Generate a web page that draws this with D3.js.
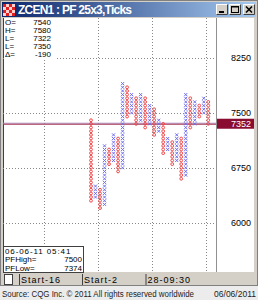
<!DOCTYPE html>
<html>
<head>
<meta charset="utf-8">
<script src="https://cdnjs.cloudflare.com/ajax/libs/d3/7.8.5/d3.min.js"></script>
<style>
  body { margin: 0; background: #d4d0c8; }
  svg { display: block; }
  text { font-family: "Liberation Sans", Arial, sans-serif; }
</style>
</head>
<body>
<div id="chart"></div>
<script>
// point & figure columns (prices in cents*10)
const columnType = ["O","X","O","X","O","X","O","X","O","X","O","X","O","X",
                    "O","X","O","X","O","X","O","X","O","X","O","X","O"];
const columnHigh = [7400, 6500, 6450, 7050, 7000, 7200, 7150, 7900, 7850, 7750,
                    7700, 7750, 7700, 7600, 7550, 7400, 7350, 7150, 7100, 7200,
                    7150, 7750, 7700, 7650, 7600, 7700, 7650];
const columnLow  = [6300, 6350, 6200, 6250, 6800, 6850, 6700, 6750, 7450, 7500,
                    7350, 7400, 7300, 7350, 7200, 7250, 6950, 7000, 6800, 6850,
                    6600, 6650, 7300, 7350, 7450, 7500, 7350];
const boxSize = 50;
const priceTicks = [8250, 7500, 6750, 6000];
const gridColumns = [-10.4, 1.6, 13.6, 25.6];
const lastPrice = 7352;
const infoLabels = ["O=", "H=", "L=", "L=", "Δ="];
const infoValues = ["7540", "7580", "7322", "7350", "-190"];
const statusLabels = ["Start-16", "Start-2", "28-09:30"];

const W = 258, H = 300;
const plot = {left: 3, right: 216, top: 18, bottom: 272};

const svg = d3.select("#chart").append("svg")
    .attr("width", W).attr("height", H);

// window frame
svg.append("rect").attr("x", 0).attr("y", 0).attr("width", W).attr("height", 286)
    .attr("fill", "#d4d0c8");
svg.append("rect").attr("x", 0.5).attr("y", 0.5).attr("width", W - 1).attr("height", 285)
    .attr("fill", "none").attr("stroke", "#808080");

// title bar
const grad = svg.append("defs").append("linearGradient").attr("id", "tb");
grad.append("stop").attr("offset", "0%").attr("stop-color", "#0a246a");
grad.append("stop").attr("offset", "100%").attr("stop-color", "#a6caf0");
svg.append("rect").attr("x", 2).attr("y", 2).attr("width", W - 4).attr("height", 15)
    .attr("fill", "url(#tb)");

// icon
const icon = svg.append("g").attr("transform", "translate(3,4)");
for (let r = 0; r < 4; r++) {
    for (let c = 0; c < 4; c++) {
        icon.append("rect").attr("x", c * 3).attr("y", r * 3).attr("width", 3).attr("height", 3)
            .attr("fill", (r + c) % 2 == 0 ? "#e02020" : "#ffd0d0");
    }
}
svg.append("text").attr("x", 18).attr("y", 14)
    .attr("fill", "white").attr("font-weight", "bold").attr("font-size", 12)
    .attr("font-family", "'DejaVu Sans', sans-serif").attr("textLength", 114)
    .text("ZCEN1 : PF 25x3,Ticks");

// title buttons
[216, 229, 243].forEach((bx, i) => {
    const b = svg.append("g").attr("transform", "translate(" + bx + ",4)");
    b.append("rect").attr("width", 12).attr("height", 11).attr("fill", "#d4d0c8");
    b.append("path").attr("d", "M0.5,10.5 V0.5 H11.5").attr("stroke", "white").attr("fill", "none");
    b.append("path").attr("d", "M0.5,10.5 H11.5 V0.5").attr("stroke", "#404040").attr("fill", "none");
    if (i == 0) b.append("rect").attr("x", 3).attr("y", 7).attr("width", 5).attr("height", 2).attr("fill", "black");
    if (i == 1) b.append("rect").attr("x", 2.5).attr("y", 2.5).attr("width", 7).attr("height", 6)
        .attr("fill", "none").attr("stroke", "black").attr("stroke-width", 1);
    if (i == 1) b.append("rect").attr("x", 2).attr("y", 2).attr("width", 8).attr("height", 1.5).attr("fill", "black");
    if (i == 2) b.append("path").attr("d", "M3,2.5 L9,8.5 M9,2.5 L3,8.5")
        .attr("stroke", "black").attr("stroke-width", 1.6);
});

// chart background
svg.append("rect").attr("x", plot.left).attr("y", plot.top)
    .attr("width", 251).attr("height", plot.bottom - plot.top).attr("fill", "white");
svg.append("line").attr("x1", plot.right + 0.5).attr("x2", plot.right + 0.5)
    .attr("y1", plot.top).attr("y2", plot.bottom).attr("stroke", "#909090");
svg.append("line").attr("x1", plot.left + 0.5).attr("x2", plot.left + 0.5)
    .attr("y1", plot.top).attr("y2", plot.bottom).attr("stroke", "#404040");

// scales
const y = d3.scaleLinear().domain([6000, 8250]).range([222.7, 58]);
const x = d3.scaleLinear().domain([0, columnType.length - 1]).range([91, 208.3]);

// grid
const grid = svg.append("g").attr("stroke", "#888").attr("stroke-dasharray", "1,2");
grid.selectAll(".h").data(priceTicks).enter().append("line")
    .attr("x1", plot.left).attr("x2", plot.right)
    .attr("y1", d => Math.round(y(d)) + 0.5).attr("y2", d => Math.round(y(d)) + 0.5);
grid.selectAll(".v").data(gridColumns).enter().append("line")
    .attr("x1", d => Math.round(x(d)) + 0.5).attr("x2", d => Math.round(x(d)) + 0.5)
    .attr("y1", plot.top).attr("y2", plot.bottom);

// current price line
svg.append("line").attr("x1", plot.left).attr("x2", plot.right)
    .attr("y1", y(lastPrice) - 0.5).attr("y2", y(lastPrice) - 0.5)
    .attr("stroke", "#b090c0").attr("stroke-width", 1);
svg.append("line").attr("x1", plot.left).attr("x2", plot.right)
    .attr("y1", y(lastPrice) + 0.5).attr("y2", y(lastPrice) + 0.5)
    .attr("stroke", "#a03050").attr("stroke-width", 1);

// boxes
const boxes = [];
columnType.forEach((t, i) => {
    for (let p = columnLow[i]; p <= columnHigh[i]; p += boxSize) {
        boxes.push({col: i, price: p, type: t});
    }
});
const s = 1.5;
const marks = svg.append("g");
marks.selectAll("path.x").data(boxes.filter(d => d.type == "X")).enter().append("path")
    .attr("d", d => {
        const cx = x(d.col), cy = y(d.price);
        return `M${cx - s},${cy - s}L${cx + s},${cy + s}M${cx + s},${cy - s}L${cx - s},${cy + s}`;
    })
    .attr("stroke", "#6c6cf0").attr("stroke-width", 1);
marks.selectAll("circle").data(boxes.filter(d => d.type == "O")).enter().append("circle")
    .attr("cx", d => x(d.col)).attr("cy", d => y(d.price)).attr("r", 1.4)
    .attr("fill", "none").attr("stroke", "#f04848").attr("stroke-width", 1);

// right price axis
const axis = svg.append("g").attr("transform", "translate(" + plot.right + ",0)")
    .call(d3.axisRight(y).tickValues(priceTicks).tickSize(0).tickFormat(d3.format("d")));
axis.select(".domain").remove();
axis.selectAll("text").attr("x", 35).attr("text-anchor", "end")
    .attr("font-family", "'Liberation Sans', sans-serif").attr("font-size", 9).attr("fill", "#000");

// last price label
svg.append("rect").attr("x", plot.right + 1).attr("y", y(lastPrice) - 5)
    .attr("width", 37).attr("height", 10).attr("fill", "#8a0c30");
svg.append("text").attr("x", 251).attr("y", y(lastPrice) + 3.5).attr("text-anchor", "end")
    .attr("font-size", 9).attr("fill", "white").text(lastPrice);

// top-left info box
svg.append("rect").attr("x", 4).attr("y", 18).attr("width", 53).attr("height", 42).attr("fill", "white");
const info = svg.append("g").attr("font-size", 8).attr("fill", "black");
infoLabels.forEach((l, i) => {
    info.append("text").attr("x", 5).attr("y", 25 + i * 8).text(l);
    info.append("text").attr("x", 51).attr("y", 25 + i * 8).attr("text-anchor", "end").text(infoValues[i]);
});

// bottom-left info box
svg.append("rect").attr("x", 3.5).attr("y", 246.5).attr("width", 80).attr("height", 26)
    .attr("fill", "white").attr("stroke", "#404040");
const bi = svg.append("g").attr("font-size", 8).attr("fill", "black");
bi.append("text").attr("x", 5).attr("y", 254).attr("letter-spacing", 0.9).text("06-06-11 05:41");
bi.append("text").attr("x", 5).attr("y", 262.3).text("PFHigh=");
bi.append("text").attr("x", 82).attr("y", 262.3).attr("text-anchor", "end").text("7500");
bi.append("text").attr("x", 5).attr("y", 270.6).text("PFLow=");
bi.append("text").attr("x", 82).attr("y", 270.6).attr("text-anchor", "end").text("7374");

// status bar
svg.append("rect").attr("x", 3).attr("y", 273).attr("width", 251).attr("height", 12).attr("fill", "#d4d0c8");
svg.append("rect").attr("x", 4.5).attr("y", 274.5).attr("width", 8).attr("height", 10)
    .attr("fill", "white").attr("stroke", "#404040");
const sx = [19, 82, 145.5];
statusLabels.forEach((l, i) => {
    svg.append("line").attr("x1", sx[i] + 0.5).attr("x2", sx[i] + 0.5).attr("y1", 274).attr("y2", 285)
        .attr("stroke", "#404040");
    svg.append("text").attr("x", sx[i] + 2).attr("y", 283).attr("font-size", 9)
        .attr("letter-spacing", 1).text(l);
});

// source strip
svg.append("rect").attr("x", 0).attr("y", 286).attr("width", W).attr("height", 14).attr("fill", "#ececec");
svg.append("text").attr("x", 2).attr("y", 297).attr("font-size", 8.5).attr("fill", "#222")
    .attr("textLength", 192).attr("lengthAdjust", "spacingAndGlyphs")
    .text("Source: CQG Inc. © 2011 All rights reserved worldwide");
svg.append("text").attr("x", 256).attr("y", 297).attr("font-size", 8.5).attr("fill", "#222")
    .attr("text-anchor", "end").text("06/06/2011");
</script>
</body>
</html>
